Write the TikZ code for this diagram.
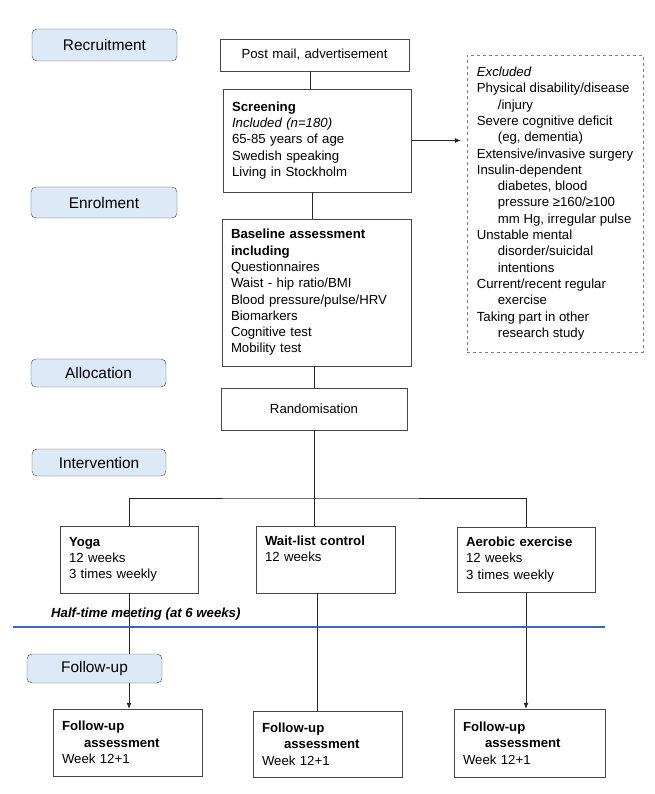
\documentclass[tikz,border=0pt]{standalone}
\usepackage{fontspec}
\setmainfont{Liberation Sans}
\usetikzlibrary{arrows.meta}
\definecolor{stagefill}{RGB}{221,233,246}
\definecolor{framegray}{RGB}{70,70,70}
\definecolor{halfblue}{RGB}{60,100,205}
\tikzset{
  stage/.style = {draw=framegray, fill=stagefill, rounded corners=5pt, inner sep=0pt, font=\fontsize{15.4}{18}\selectfont},
  flowbox/.style = {draw=framegray, align=left, inner xsep=9pt, inner ysep=0pt, font=\fontsize{13.2}{16.3}\selectfont},
  exclbox/.style = {flowbox, draw=gray, dashed, inner xsep=0pt},
  link/.style = {draw=black!85, line width=0.7pt},
  linkarrow/.style = {link, -{Latex[length=6pt,width=5pt]}},
}

\begin{document}
\begin{tikzpicture}[x=1pt, y=-1pt]
\useasboundingbox (0,0) rectangle (654,794);
% stages on the left
\node [stage, minimum width=145pt, minimum height=32pt] (recruit) at (104.5,45) {Recruitment};
\node [stage, minimum width=146pt, minimum height=31pt] (enrol) at (104,202.5) {Enrolment};
\node [stage, minimum width=135pt, minimum height=28pt] (alloc) at (98.5,373) {Allocation};
\node [stage, minimum width=134pt, minimum height=27pt] (interv) at (99,462.5) {Intervention};
\node [stage, minimum width=135pt, minimum height=29pt] (follow) at (94.5,668.5) {Follow-up};
% main column
\node [flowbox, align=center, text width=171pt, minimum height=32pt] (post) at (314.5,55) {Post mail, advertisement};
\node [flowbox, text width=170pt, minimum height=103pt] (screen) at (317,140.5)
  {\textbf{Screening}\\\textit{Included (n=180)}\\65-85 years of age\\Swedish speaking\\Living in Stockholm};
\node [flowbox, text width=171pt, minimum height=147pt] (base) at (316.5,292.5)
  {\textbf{Baseline assessment}\\\textbf{including}\\Questionnaires\\Waist - hip ratio/BMI\\Blood pressure/pulse/HRV\\Biomarkers\\Cognitive test\\Mobility test};
\node [flowbox, align=center, text width=168pt, minimum height=42pt] (rand) at (314,409) {Randomisation};
\node [exclbox, minimum width=176pt, minimum height=297pt] (excl) at (555,203.5)
  {\textit{Excluded}\\Physical disability/disease\\\hspace*{21pt}/injury\\Severe cognitive deficit\\\hspace*{21pt}(eg, dementia)\\Extensive/invasive surgery\\Insulin-dependent\\\hspace*{21pt}diabetes, blood\\\hspace*{21pt}pressure ≥160/≥100\\\hspace*{21pt}mm Hg, irregular pulse\\Unstable mental\\\hspace*{21pt}disorder/suicidal\\\hspace*{21pt}intentions\\Current/recent regular\\\hspace*{21pt}exercise\\Taking part in other\\\hspace*{21pt}research study};
% arms
\node [flowbox, text width=120pt, minimum height=67pt] (yoga) at (129,559.5) {\textbf{Yoga}\\12 weeks\\3 times weekly};
\node [flowbox, text width=121pt, minimum height=67pt] (wait) at (325.5,559.5) {\textbf{Wait-list control}\\12 weeks\\\strut};
\node [flowbox, text width=120pt, minimum height=65pt] (aero) at (526,559.5) {\textbf{Aerobic exercise}\\12 weeks\\3 times weekly};
\node [flowbox, text width=131pt, minimum height=67pt] (fa1) at (127.5,742.5) {\textbf{Follow-up}\\\hspace*{22pt}\textbf{assessment}\\Week 12+1};
\node [flowbox, text width=131pt, minimum height=66pt] (fa2) at (327.5,744) {\textbf{Follow-up}\\\hspace*{22pt}\textbf{assessment}\\Week 12+1};
\node [flowbox, text width=133pt, minimum height=68pt] (fa3) at (529.5,743) {\textbf{Follow-up}\\\hspace*{22pt}\textbf{assessment}\\Week 12+1};
\node [anchor=west, inner sep=0pt, font=\fontsize{13.2}{16.3}\selectfont\bfseries\itshape] (half) at (51,614) {Half-time meeting (at 6 weeks)};
\coordinate (split) at (314,498);
\coordinate (hleft) at (13,627);
\coordinate (hright) at (605,627);

\draw [link] ([xshift=-4pt]post.south) -- ([xshift=-4pt]post.south |- screen.north);
\draw [link] ([xshift=-5pt]screen.south) -- ([xshift=-5pt]screen.south |- base.north);
\draw [link] (rand.north |- base.south) -- (rand.north);
\draw [linkarrow, shorten >=6pt] (screen.east) -- (screen.east -| excl.west);
\draw [link] (rand.south) -- (rand.south |- wait.north);
\draw [link] (yoga.north) |- (split) -| (aero.north);
\draw [link] (yoga.south) -- (yoga.south |- follow.north);
\draw [linkarrow] (yoga.south |- follow.south) -- (yoga.south |- fa1.north);
\draw [link] ([xshift=-8pt]wait.south) -- ([xshift=-8pt]wait.south |- fa2.north);
\draw [linkarrow] (aero.south) -- (aero.south |- fa3.north);
\draw [draw=halfblue, line width=1.1pt] (hleft) -- (hright);
\end{tikzpicture}
\end{document}
